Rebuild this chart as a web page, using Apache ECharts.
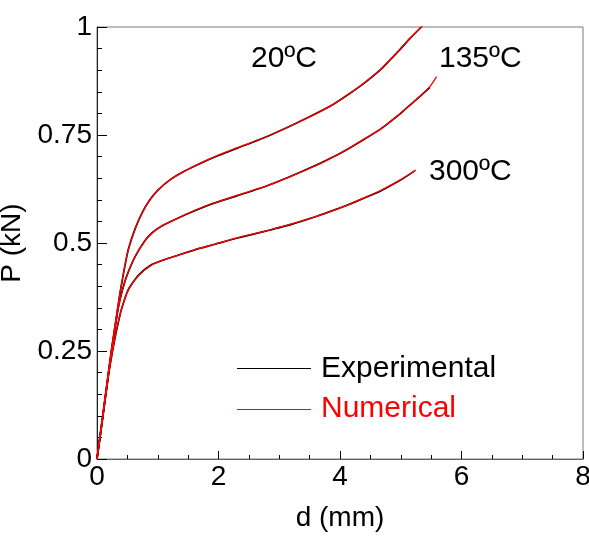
<!DOCTYPE html>
<html>
<head>
<meta charset="utf-8">
<script src="https://cdn.jsdelivr.net/npm/echarts@6/dist/echarts.min.js"></script>
<style>
html,body{margin:0;padding:0;background:#fff;}
#c{width:589px;height:539px;}
</style>
</head>
<body>
<div id="c"></div>
<script>
// x-axis ticks (d, mm) and y-axis ticks (P, kN)
var xTicks = [0, 2, 4, 6, 8];
var yTicks = [0, 0.25, 0.5, 0.75, 1];
var tempLabels = ['20ºC', '135ºC', '300ºC'];
var legendNames = ['Experimental', 'Numerical'];

// Experimental curves [d, P]
var exp20 = [[0,0],[0.08,0.085],[0.16,0.17],[0.24,0.254],[0.31,0.32],[0.38,0.385],[0.45,0.44],[0.515,0.485],[0.625,0.532],[0.75,0.572],[0.87,0.600],[1.0,0.622],[1.2,0.646],[1.45,0.667],[1.7,0.684],[1.94,0.699],[2.3,0.719],[2.79,0.746],[3.2,0.772],[3.62,0.801],[3.9,0.822],[4.16,0.846],[4.4,0.870],[4.66,0.900],[4.82,0.923],[4.99,0.948],[5.15,0.973],[5.34,1.0]];
var exp135 = [[0,0],[0.08,0.083],[0.16,0.166],[0.24,0.25],[0.3,0.305],[0.35,0.350],[0.42,0.392],[0.49,0.424],[0.625,0.468],[0.79,0.506],[0.9,0.523],[1.06,0.539],[1.4,0.562],[1.7,0.580],[1.94,0.593],[2.3,0.609],[2.79,0.632],[3.2,0.655],[3.62,0.681],[3.9,0.700],[4.16,0.720],[4.4,0.740],[4.66,0.763],[4.99,0.799],[5.10,0.813],[5.3,0.837],[5.48,0.860]];
var exp300 = [[0,0],[0.08,0.08],[0.186,0.192],[0.25,0.245],[0.30,0.283],[0.36,0.322],[0.41,0.350],[0.515,0.392],[0.68,0.425],[0.9,0.450],[1.1,0.461],[1.34,0.472],[1.7,0.488],[1.94,0.497],[2.3,0.511],[2.79,0.528],[3.2,0.543],[3.62,0.562],[3.9,0.576],[4.16,0.590],[4.4,0.604],[4.66,0.620],[4.99,0.645],[5.23,0.667]];

// Numerical curves [d, P]
var num20 = [[0,0],[0.08,0.086],[0.16,0.172],[0.24,0.256],[0.31,0.322],[0.38,0.386],[0.45,0.441],[0.515,0.484],[0.625,0.531],[0.75,0.571],[0.87,0.599],[1.0,0.622],[1.2,0.646],[1.45,0.667],[1.7,0.685],[1.94,0.700],[2.3,0.720],[2.79,0.746],[3.2,0.772],[3.62,0.800],[3.9,0.822],[4.16,0.846],[4.4,0.871],[4.66,0.901],[4.82,0.924],[4.99,0.949],[5.15,0.974],[5.36,1.003]];
var num135 = [[0,0],[0.08,0.084],[0.16,0.167],[0.24,0.251],[0.3,0.306],[0.35,0.350],[0.42,0.391],[0.49,0.423],[0.625,0.468],[0.79,0.505],[0.9,0.522],[1.06,0.539],[1.4,0.562],[1.7,0.581],[1.94,0.593],[2.3,0.610],[2.79,0.632],[3.2,0.655],[3.62,0.680],[3.9,0.700],[4.16,0.720],[4.4,0.741],[4.66,0.763],[4.99,0.800],[5.10,0.813],[5.3,0.838],[5.48,0.862],[5.59,0.885]];
var num300 = [[0,0],[0.08,0.081],[0.186,0.191],[0.25,0.246],[0.30,0.284],[0.36,0.323],[0.41,0.350],[0.515,0.391],[0.68,0.424],[0.9,0.449],[1.1,0.461],[1.34,0.472],[1.7,0.488],[1.94,0.497],[2.3,0.512],[2.79,0.528],[3.2,0.544],[3.62,0.562],[3.9,0.576],[4.16,0.590],[4.4,0.605],[4.66,0.621],[4.99,0.646],[5.25,0.669]];

var FONT = '"Liberation Sans", Arial, sans-serif';
var chart = echarts.init(document.getElementById('c'), null, {renderer: 'canvas'});

function lineSeries(name, data, color, width) {
  return {
    name: name, type: 'line', data: data, symbol: 'none',
    smooth: 0.2,
    lineStyle: {color: color, width: width},
    animation: false, clip: true, silent: true
  };
}

var option = {
  backgroundColor: '#fff',
  animation: false,
  grid: {left: 97, top: 27, width: 486, height: 432, show: true, borderColor: '#7a7a7a', borderWidth: 1,
    backgroundColor: 'transparent', containLabel: false, outerBoundsMode: 'none'},
  xAxis: {
    type: 'value', min: xTicks[0], max: xTicks[xTicks.length - 1], interval: xTicks[1] - xTicks[0],
    axisLine: {show: true, onZero: false, lineStyle: {color: '#666', width: 1}},
    axisTick: {show: true, inside: true, length: 8, lineStyle: {color: '#000'}},
    minorTick: {show: true, splitNumber: 4, length: 4, lineStyle: {color: '#000'}},
    splitLine: {show: false},
    axisLabel: {fontFamily: FONT, fontSize: 28, color: '#000', margin: 4},
    name: 'd (mm)', nameLocation: 'middle', nameGap: 45,
    nameTextStyle: {fontFamily: FONT, fontSize: 28, color: '#000'}
  },
  yAxis: {
    type: 'value', min: yTicks[0], max: yTicks[yTicks.length - 1], interval: yTicks[1] - yTicks[0],
    axisLine: {show: true, onZero: false, lineStyle: {color: '#222', width: 1}},
    axisTick: {show: true, inside: true, length: 10, lineStyle: {color: '#000'}},
    minorTick: {show: true, splitNumber: 5, length: 5, lineStyle: {color: '#000'}},
    splitLine: {show: false},
    axisLabel: {fontFamily: FONT, fontSize: 28, color: '#000', margin: 5,
      formatter: function (v) { return String(v); }},
    name: 'P (kN)', nameLocation: 'middle', nameGap: 62,
    nameTextStyle: {fontFamily: FONT, fontSize: 28, color: '#000'}
  },
  series: [
    lineSeries(legendNames[0], exp20, '#000', 1.7),
    lineSeries(legendNames[0], exp135, '#000', 1.7),
    lineSeries(legendNames[0], exp300, '#000', 1.7),
    lineSeries(legendNames[1], num20, '#ff0000', 1.3),
    lineSeries(legendNames[1], num135, '#ff0000', 1.3),
    lineSeries(legendNames[1], num300, '#ff0000', 1.3)
  ],
  graphic: [
    {type: 'text', left: 251, top: 44, style: {text: tempLabels[0], font: '30px ' + FONT, fill: '#000'}},
    {type: 'text', left: 439, top: 44, style: {text: tempLabels[1], font: '30px ' + FONT, fill: '#000'}},
    {type: 'text', left: 429, top: 157, style: {text: tempLabels[2], font: '30px ' + FONT, fill: '#000'}},
    {type: 'line', shape: {x1: 237, y1: 368.5, x2: 311, y2: 368.5}, style: {stroke: '#000', lineWidth: 1}},
    {type: 'line', shape: {x1: 237, y1: 409.5, x2: 311, y2: 409.5}, style: {stroke: '#ff0000', lineWidth: 1}},
    {type: 'text', left: 321, top: 354, style: {text: legendNames[0], font: '30px ' + FONT, fill: '#000'}},
    {type: 'text', left: 321, top: 394, style: {text: legendNames[1], font: '30px ' + FONT, fill: '#ff0000'}}
  ]
};
chart.setOption(option);
</script>
</body>
</html>
